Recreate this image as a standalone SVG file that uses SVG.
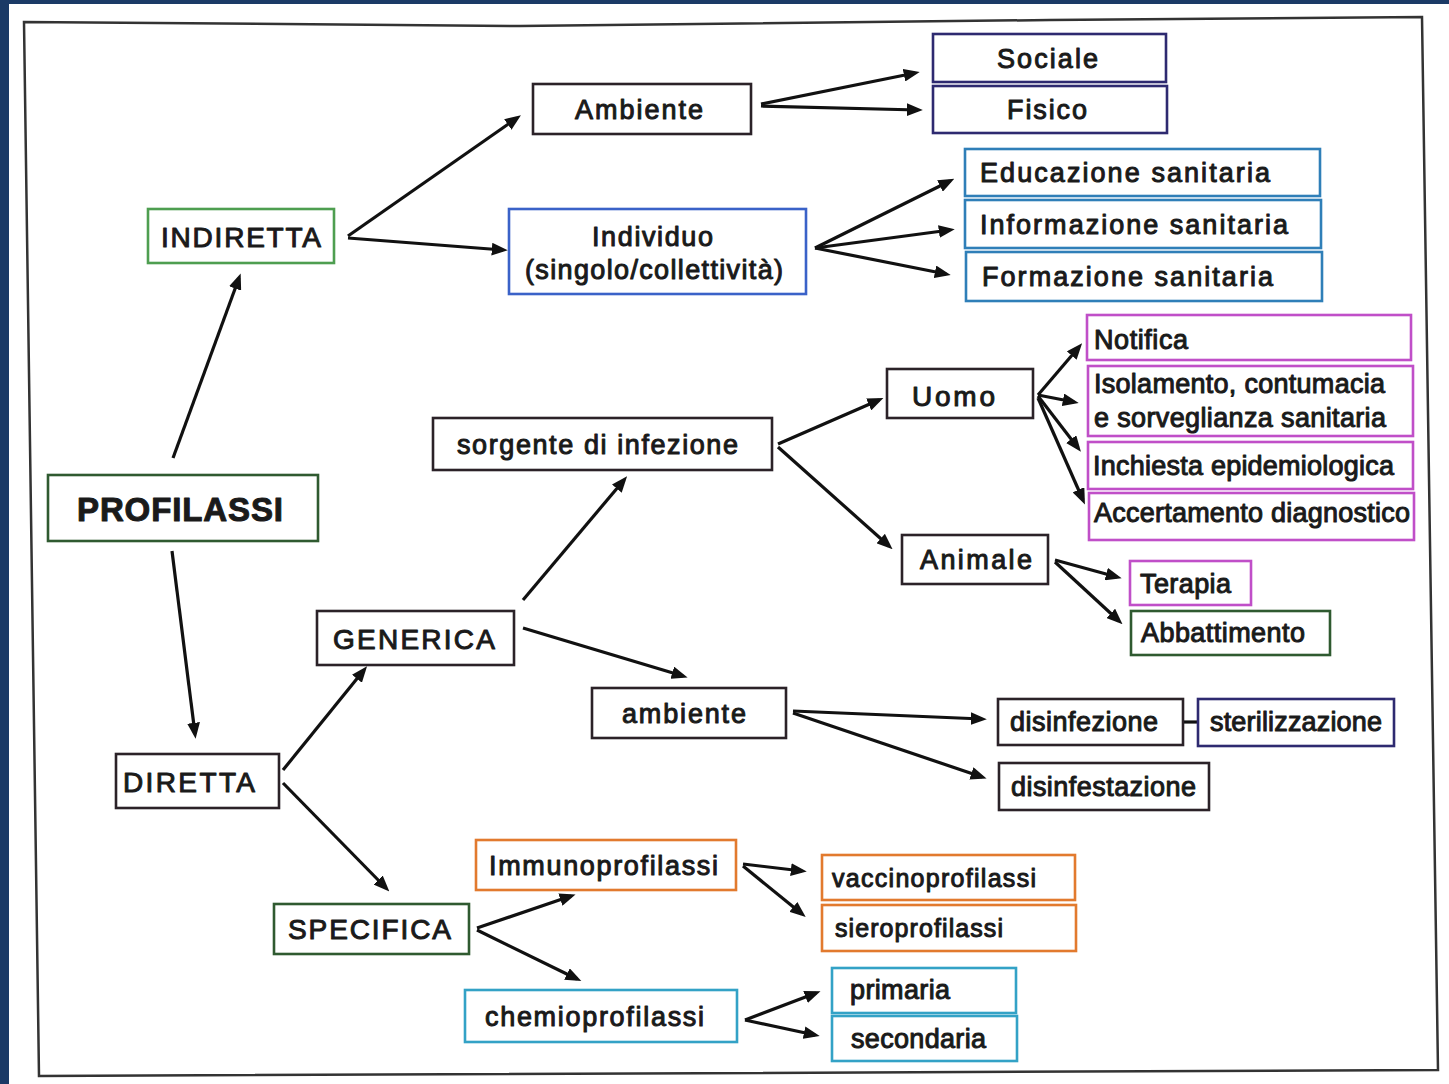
<svg xmlns="http://www.w3.org/2000/svg" width="1449" height="1084" viewBox="0 0 1449 1084">
<defs>
<marker id="ah" viewBox="0 0 10 8" refX="7" refY="4" markerWidth="5" markerHeight="4" orient="auto" markerUnits="strokeWidth">
<path d="M0,0 L10,4 L0,8 Z" fill="#111"/>
</marker>
<style>
.b{fill:#fff;stroke-width:2.6}
.t{font-family:"Liberation Sans",Arial,sans-serif;font-size:27px;fill:#1a1a1a;stroke:#1a1a1a;stroke-width:1;stroke-linejoin:round}
.cap{font-size:28px}
.dk{stroke:#2b2228}
.gr{stroke:#4e9e50}
.dg{stroke:#2f5a30}
.ind{stroke:#2e2a70}
.bl{stroke:#3a62c8}
.sb{stroke:#2f7fb8}
.mg{stroke:#c04fc8}
.or{stroke:#e27a2e}
.cy{stroke:#33a2c6}
.c line{stroke:#111;stroke-width:3.2;marker-end:url(#ah)}
</style>
</defs>
<rect x="0" y="0" width="1449" height="1084" fill="#1b3a66"/>
<rect x="9" y="4" width="1440" height="1080" fill="#fff"/>
<path d="M24,22 L520,26 L1050,20 L1422,17 L1438,1070 L39,1076 Z" fill="none" stroke="#333" stroke-width="2.5"/>

<g id="connectors" class="c">
<line x1="173" y1="458" x2="239" y2="278"/>
<line x1="172" y1="551" x2="195" y2="734"/>
<line x1="348" y1="236" x2="517" y2="118"/>
<line x1="348" y1="238" x2="503" y2="250"/>
<line x1="761" y1="104" x2="915" y2="73"/>
<line x1="761" y1="106" x2="918" y2="110"/>
<line x1="815" y1="248" x2="950" y2="181"/>
<line x1="815" y1="248" x2="950" y2="230"/>
<line x1="815" y1="248" x2="946" y2="274"/>
<line x1="283" y1="770" x2="364" y2="670"/>
<line x1="283" y1="783" x2="386" y2="888"/>
<line x1="523" y1="600" x2="624" y2="480"/>
<line x1="523" y1="628" x2="683" y2="676"/>
<line x1="778" y1="444" x2="879" y2="400"/>
<line x1="778" y1="447" x2="889" y2="546"/>
<line x1="1038" y1="395" x2="1079" y2="347"/>
<line x1="1038" y1="395" x2="1074" y2="402"/>
<line x1="1038" y1="396" x2="1078" y2="448"/>
<line x1="1038" y1="398" x2="1083" y2="500"/>
<line x1="1055" y1="560" x2="1117" y2="577"/>
<line x1="1055" y1="562" x2="1119" y2="621"/>
<line x1="793" y1="711" x2="982" y2="719"/>
<line x1="793" y1="713" x2="982" y2="777"/>
<line x1="477" y1="928" x2="571" y2="896"/>
<line x1="477" y1="930" x2="577" y2="979"/>
<line x1="743" y1="864" x2="802" y2="871"/>
<line x1="743" y1="866" x2="802" y2="914"/>
<line x1="745" y1="1020" x2="816" y2="993"/>
<line x1="745" y1="1020" x2="815" y2="1035"/>
<line x1="1183" y1="722" x2="1198" y2="722" style="marker-end:none"/>
</g>

<g id="profilassi"><rect class="b dg" x="48" y="475" width="270" height="66"/><text class="t" x="77" y="521" textLength="206" style="font-weight:bold;font-size:33px">PROFILASSI</text></g>
<g id="indiretta"><rect class="b gr" x="148" y="209" width="186" height="54"/><text class="t cap" x="161" y="247" textLength="160">INDIRETTA</text></g>
<g id="diretta"><rect class="b dk" x="116" y="754" width="163" height="54"/><text class="t cap" x="123" y="792" textLength="132">DIRETTA</text></g>
<g id="ambiente-top"><rect class="b dk" x="533" y="84" width="218" height="50"/><text class="t" x="575" y="119" textLength="128">Ambiente</text></g>
<g id="sociale"><rect class="b ind" x="933" y="34" width="233" height="48"/><text class="t" x="997" y="68" textLength="101">Sociale</text></g>
<g id="fisico"><rect class="b ind" x="933" y="86" width="234" height="47"/><text class="t" x="1007" y="119" textLength="80">Fisico</text></g>
<g id="individuo"><rect class="b bl" x="509" y="209" width="297" height="85"/><text class="t" x="592" y="246" textLength="121">Individuo</text><text class="t" x="525" y="279" textLength="258">(singolo/collettività)</text></g>
<g id="educazione"><rect class="b sb" x="965" y="149" width="355" height="47"/><text class="t" x="980" y="182" textLength="290">Educazione sanitaria</text></g>
<g id="informazione"><rect class="b sb" x="965" y="200" width="356" height="48"/><text class="t" x="980" y="234" textLength="308">Informazione sanitaria</text></g>
<g id="formazione"><rect class="b sb" x="966" y="252" width="356" height="49"/><text class="t" x="982" y="286" textLength="291">Formazione sanitaria</text></g>
<g id="sorgente"><rect class="b dk" x="433" y="418" width="339" height="52"/><text class="t" x="457" y="454" textLength="281">sorgente di infezione</text></g>
<g id="uomo"><rect class="b dk" x="887" y="369" width="146" height="49"/><text class="t cap" x="912" y="406" textLength="83">Uomo</text></g>
<g id="animale"><rect class="b dk" x="902" y="535" width="146" height="49"/><text class="t" x="920" y="569" textLength="112">Animale</text></g>
<g id="notifica"><rect class="b mg" x="1087" y="315" width="324" height="45"/><text class="t" x="1094" y="349" textLength="94">Notifica</text></g>
<g id="isolamento"><rect class="b mg" x="1088" y="366" width="325" height="70"/><text class="t" x="1094" y="393" textLength="291">Isolamento, contumacia</text><text class="t" x="1094" y="427" textLength="292">e sorveglianza sanitaria</text></g>
<g id="inchiesta"><rect class="b mg" x="1088" y="442" width="325" height="47"/><text class="t" x="1093" y="475" textLength="301">Inchiesta epidemiologica</text></g>
<g id="accertamento"><rect class="b mg" x="1089" y="493" width="325" height="47"/><text class="t" x="1094" y="522" textLength="316">Accertamento diagnostico</text></g>
<g id="terapia"><rect class="b mg" x="1130" y="561" width="121" height="44"/><text class="t" x="1140" y="593" textLength="91">Terapia</text></g>
<g id="abbattimento"><rect class="b dg" x="1131" y="611" width="199" height="44"/><text class="t" x="1141" y="642" textLength="164">Abbattimento</text></g>
<g id="generica"><rect class="b dk" x="317" y="611" width="197" height="54"/><text class="t cap" x="333" y="649" textLength="162">GENERICA</text></g>
<g id="ambiente"><rect class="b dk" x="592" y="688" width="194" height="50"/><text class="t" x="622" y="723" textLength="124">ambiente</text></g>
<g id="disinfezione"><rect class="b dk" x="998" y="699" width="185" height="46"/><text class="t" x="1010" y="731" textLength="148">disinfezione</text></g>
<g id="sterilizzazione"><rect class="b ind" x="1198" y="699" width="196" height="47"/><text class="t" x="1210" y="731" textLength="172">sterilizzazione</text></g>
<g id="disinfestazione"><rect class="b dk" x="999" y="763" width="210" height="47"/><text class="t" x="1011" y="796" textLength="185">disinfestazione</text></g>
<g id="specifica"><rect class="b dg" x="274" y="904" width="195" height="50"/><text class="t cap" x="288" y="939" textLength="163">SPECIFICA</text></g>
<g id="immunoprofilassi"><rect class="b or" x="476" y="840" width="260" height="50"/><text class="t" x="489" y="875" textLength="229">Immunoprofilassi</text></g>
<g id="vaccinoprofilassi"><rect class="b or" x="822" y="855" width="253" height="45"/><text class="t" x="832" y="887" textLength="204" style="font-size:25px">vaccinoprofilassi</text></g>
<g id="sieroprofilassi"><rect class="b or" x="822" y="905" width="254" height="46"/><text class="t" x="835" y="937" textLength="168" style="font-size:25px">sieroprofilassi</text></g>
<g id="chemioprofilassi"><rect class="b cy" x="465" y="990" width="272" height="52"/><text class="t" x="485" y="1026" textLength="219">chemioprofilassi</text></g>
<g id="primaria"><rect class="b cy" x="832" y="968" width="184" height="45"/><text class="t" x="850" y="999" textLength="100">primaria</text></g>
<g id="secondaria"><rect class="b cy" x="832" y="1016" width="185" height="45"/><text class="t" x="851" y="1048" textLength="135">secondaria</text></g>
</svg>
